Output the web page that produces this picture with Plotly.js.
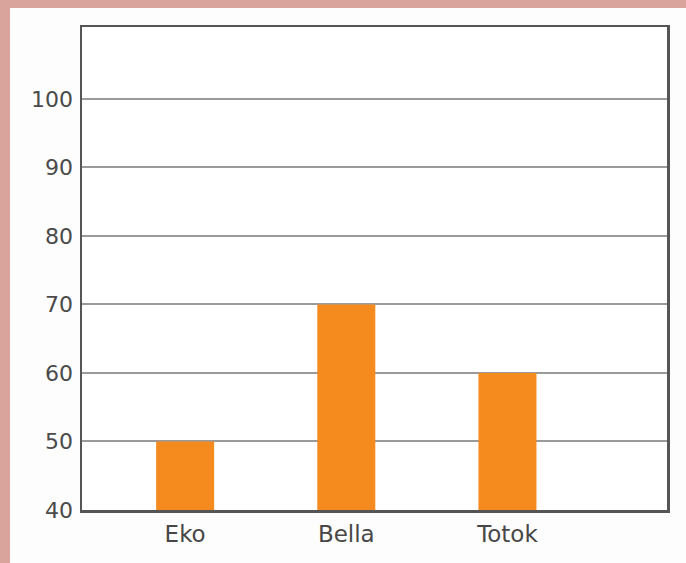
<!DOCTYPE html>
<html>
<head>
<meta charset="utf-8">
<script src="https://cdn.plot.ly/plotly-3.0.1.min.js"></script>
<style>
  html, body { margin: 0; padding: 0; background: #d9a49c; width: 686px; height: 563px; overflow: hidden; }
  #chart { position: absolute; left: 10px; top: 8px; width: 676px; height: 555px; }
</style>
</head>
<body>
<div id="chart"></div>
<script>
const categories = ["Eko", "Bella", "Totok"];
const values = [50, 70, 60];
const yTicks = [40, 50, 60, 70, 80, 90, 100];

const trace = {
  type: "bar",
  x: categories,
  y: values,
  marker: { color: "#f58a1f" },
  width: 0.36,
  hoverinfo: "skip"
};

const layout = {
  width: 676,
  height: 555,
  margin: { l: 72, r: 19, t: 19, b: 53 },
  paper_bgcolor: "#fdfdfd",
  plot_bgcolor: "#ffffff",
  showlegend: false,
  font: { family: "DejaVu Sans", size: 22, color: "#4a4a4a" },
  xaxis: {
    type: "category",
    range: [-0.64, 2.99],
    showline: true,
    mirror: true,
    linecolor: "#555555",
    linewidth: 2.5,
    showgrid: false,
    ticks: "",
    ticklabelstandoff: 2,
    tickfont: { family: "DejaVu Sans", size: 23, color: "#474747" }
  },
  yaxis: {
    range: [40, 110.5],
    tickvals: yTicks,
    ticktext: yTicks.map(String),
    showline: true,
    mirror: true,
    linecolor: "#555555",
    linewidth: 2.5,
    showgrid: true,
    gridcolor: "#9a9a9a",
    gridwidth: 2,
    zeroline: false,
    ticks: "",
    ticklabelstandoff: 2,
    tickfont: { family: "DejaVu Sans", size: 22, color: "#4a4a4a" }
  }
};

Plotly.newPlot("chart", [trace], layout, { displayModeBar: false, staticPlot: true });
</script>
</body>
</html>
